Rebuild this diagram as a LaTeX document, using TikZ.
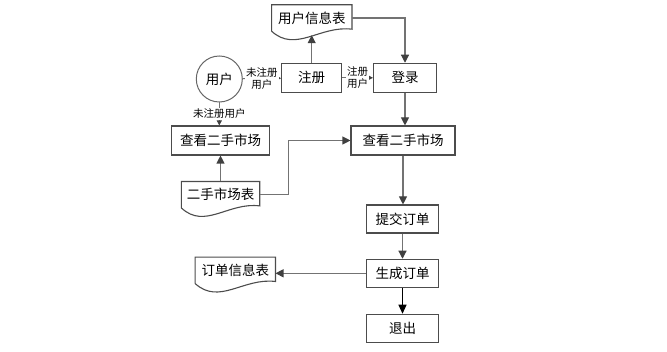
\documentclass[tikz,border=0pt]{standalone}
\usepackage{fontspec}
\newfontfamily\cjk{Noto Sans CJK SC}
\usetikzlibrary{calc,arrows.meta}
\begin{document}
\begin{tikzpicture}[x=1pt,y=-1pt,font=\cjk\fontsize{13.5}{16}\selectfont,
  box/.style={draw=black!70,line width=1.1pt,fill=white,minimum height=29pt,inner sep=0pt},
  doc/.style={minimum height=26pt,inner sep=0pt},
  line/.style={draw=black!55,line width=1.1pt,-{Triangle[length=8pt,width=8pt,color=black!75]}},
  thin/.style={draw=black!55,line width=1pt,-{Triangle[length=5pt,width=5pt,color=black!75]}},
  lab/.style={fill=white,font=\cjk\fontsize{10.5}{12}\selectfont,inner sep=1pt,align=center}]
  \useasboundingbox (0,0) rectangle (667,352);

  % nodes
  \node[draw=black!60,line width=1pt,circle,minimum size=46pt,inner sep=0pt] (yonghu) at (219.3,79) {用户};
  \node[box,minimum width=60pt] (zhuce) at (311.7,77.8) {注册};
  \node[box,minimum width=63pt] (denglu) at (405,77.8) {登录};
  \node[box,minimum width=98pt] (chakan1) at (220.5,140.5) {查看二手市场};
  \node[box,minimum width=104pt] (chakan2) at (403,140.5) {查看二手市场};
  \node[box,minimum width=72pt,minimum height=28pt] (tijiao) at (402.5,219) {提交订单};
  \node[box,minimum width=72pt,minimum height=28pt] (shengcheng) at (402.5,273.3) {生成订单};
  \node[box,minimum width=72pt,minimum height=28pt] (tuichu) at (402.5,328.3) {退出};
  \node[doc,minimum width=80pt] (yhxx) at (311.8,18) {用户信息表};
  \node[doc,minimum width=78pt] (escb) at (220.5,194.7) {二手市场表};
  \node[doc,minimum width=80pt] (ddxx) at (235.3,270.3) {订单信息表};

  % document outlines
  \foreach \d in {yhxx,escb,ddxx}{
    \draw[black!70,line width=1.1pt] (\d.south west) -- (\d.north west) -- (\d.north east) -- ($(\d.south east)+(0,-2)$)
      .. controls ($(\d.south west)!0.6!(\d.south east)+(0,-6)$) and ($(\d.south west)!0.3!(\d.south east)+(0,22)$) .. (\d.south west);
  }
  \coordinate (yhxxb) at ($(yhxx.south)+(0,4)$);

  % connectors
  \draw[thin] (yonghu) -- (zhuce) node[lab,midway] {未注册\\用户};
  \draw[thin] (zhuce) -- (denglu) node[lab,midway] {注册\\用户};
  \draw[thin] (yonghu.south) -- (yonghu.south |- chakan1.north) node[lab,midway] {未注册用户};
  \draw[line] (zhuce.north) -- (zhuce.north |- yhxxb);
  \draw[line] (yhxx.east) -| (denglu.north);
  \draw[line] (denglu.south) -- (denglu.south |- chakan2.north);
  \draw[line] (escb.north) -- (escb.north |- chakan1.south);
  \draw[line] (escb.east) -- ++(29,0) |- (chakan2.west);
  \draw[line] (chakan2.south) -- (chakan2.south |- tijiao.north);
  \draw[line] (tijiao) -- (shengcheng);
  \draw[line] (shengcheng.west) -- (shengcheng.west -| ddxx.east);
  \draw[line,draw=black,-{Triangle[length=9pt,width=8pt]}] (shengcheng) -- (tuichu);
\end{tikzpicture}
\end{document}
